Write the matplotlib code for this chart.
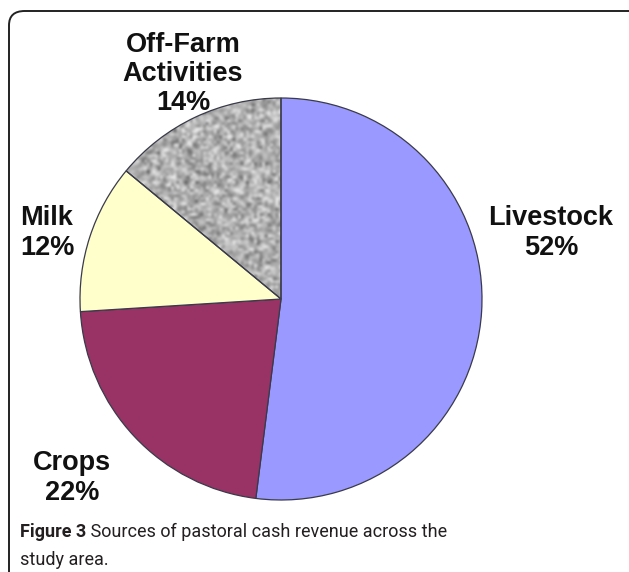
import numpy as np
import matplotlib
matplotlib.use("Agg")
import matplotlib.pyplot as plt
from matplotlib.patches import FancyBboxPatch

# data
labels = ["Livestock", "Crops", "Milk", "Off-Farm\nActivities"]
shares = [52, 22, 12, 14]
colors = ["#9999ff", "#993366", "#ffffcc", "#a8a8a8"]

# label anchor points (figure pixels, from top-left)
label_pos = [(551, 233), (72, 478), (47, 233), (183, 74)]

W, H = 629, 572
fig = plt.figure(figsize=(W / 100, H / 100), dpi=100)

# pie axes: centre (281, 299) px, radius ~201 px
cx, cy, r = 281, 299, 201
ax = fig.add_axes([(cx - r) / W, (H - cy - r) / H, 2 * r / W, 2 * r / H])
wedges, _ = ax.pie(shares, colors=colors, startangle=90, counterclock=False,
                   radius=1, center=(0, 0),
                   wedgeprops=dict(edgecolor="#3a3a4a", linewidth=0.9))
ax.set_xlim(-1, 1)
ax.set_ylim(-1, 1)
ax.set_aspect("auto")
ax.axis("off")

# speckled grey texture for the off-farm slice (style only)
rng = np.random.default_rng(3)
noise = rng.normal(0.69, 0.14, (150, 150))
noise = np.clip(noise, 0.25, 0.95)
im = ax.imshow(noise, cmap="gray", vmin=0, vmax=1, extent=(-1, 1, -1, 1),
               interpolation="bicubic", zorder=0.5)
im.set_clip_path(wedges[3])
wedges[3].set_facecolor("none")
wedges[3].set_zorder(1)

for lab, val, (px, py) in zip(labels, shares, label_pos):
    fig.text(px / W, 1 - py / H, f"{lab}\n{val}%", ha="center", va="center",
             fontsize=19.5, fontweight="bold", family="Liberation Sans",
             linespacing=1.17, color="#111111")

# caption
cap_font = dict(fontsize=13, family="Roboto", color="#231f20")
t1 = fig.text(20 / W, 1 - 537 / H, "Figure 3", fontweight="bold",
              va="baseline", **cap_font)
ax_cap = fig.add_axes([0, 0, 1, 1], facecolor="none")
ax_cap.axis("off")
ax_cap.annotate(" Sources of pastoral cash revenue across the", xy=(1, 0),
                xycoords=t1, va="bottom", ha="left", **cap_font)
fig.text(20 / W, 1 - 565 / H, "study area.", va="baseline", **cap_font)

# rounded frame
frame = FancyBboxPatch((9 / W, -0.1), (W + 40) / W, (H - 11) / H + 0.1,
                       boxstyle="round,pad=0,rounding_size=0.025",
                       transform=fig.transFigure, fill=False,
                       edgecolor="#222222", linewidth=1.4)
fig.patches.append(frame)

fig.savefig("out.png", dpi=100)
